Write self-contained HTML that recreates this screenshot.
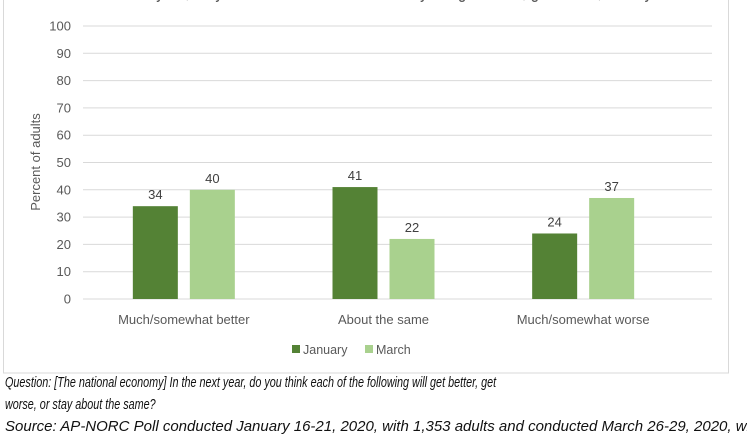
<!DOCTYPE html>
<html><head><meta charset="utf-8">
<style>
body{margin:0;background:#fff;width:747px;height:426px;overflow:hidden;position:relative;font-family:"Liberation Sans",sans-serif}
.note{position:absolute;left:5px;font-style:italic;font-size:15px;color:#111;white-space:nowrap;transform-origin:0 0}
</style></head><body>
<svg width="747" height="426" style="position:absolute;left:0;top:0">
<rect x="3.5" y="-5" width="725" height="378" fill="#fff" stroke="#d9d9d9"/>
<text x="400" y="-2" font-size="18" fill="#595959" text-anchor="middle" textLength="640" lengthAdjust="spacingAndGlyphs">In the next year, do you think the national economy will get better, get worse, or stay the same</text>
<g id="grid"></g><g id="bars"></g><g id="labels"></g>
<text transform="translate(40,162) rotate(-90)" font-size="13" fill="#595959" text-anchor="middle">Percent of adults</text>
<g>
<rect x="292" y="345" width="8" height="8" fill="#548235"/>
<text x="303" y="354" font-size="12.5" fill="#595959">January</text>
<rect x="365" y="345" width="8" height="8" fill="#a9d18e"/>
<text x="376" y="354" font-size="12.5" fill="#595959">March</text>
</g>
</svg>
<div class="note" style="top:374px;transform:scaleX(0.72)">Question: [The national economy] In the next year, do you think each of the following will get better, get</div>
<div class="note" style="top:396px;transform:scaleX(0.72)">worse, or stay about the same?</div>
<div class="note" style="top:418px">Source: AP-NORC Poll conducted January 16-21, 2020, with 1,353 adults and conducted March 26-29, 2020, with</div>
<script>
const categories=["Much/somewhat better","About the same","Much/somewhat worse"];
const january=[34,41,24];
const march=[40,22,37];
const ticks=[0,10,20,30,40,50,60,70,80,90,100];
const NS="http://www.w3.org/2000/svg";
const gx0=83,gx1=712,cx0=84,cx1=683,y0=299,ppu=2.73;
const y=v=>y0-v*ppu;
const bw=(cx1-cx0)/categories.length;
function mk(t,a,p){const e=document.createElementNS(NS,t);for(const k in a)e.setAttribute(k,a[k]);p.appendChild(e);return e;}
const grid=document.getElementById('grid'),bars=document.getElementById('bars'),labels=document.getElementById('labels');
ticks.forEach(t=>{
 const l=mk('line',{x1:gx0,x2:gx1,y1:y(t),y2:y(t),stroke:'#d9d9d9'},grid);
 
 
 const tx=mk('text',{x:71,y:y(t)+4.5,'font-size':13,fill:'#595959','text-anchor':'end'},grid);
 tx.textContent=t;
 
 
});
categories.forEach((c,i)=>{
 const cx=cx0+bw*(i+0.5);
 [[january,'#548235',cx-51,'bar-january'],[march,'#a9d18e',cx+6,'bar-march']].forEach(([s,col,bx,nm])=>{
  const r=mk('rect',{x:bx,y:y(s[i]),width:45,height:s[i]*ppu,fill:col},bars);
  
  
  const t=mk('text',{x:bx+22.5,y:y(s[i])-7,'font-size':13,fill:'#404040','text-anchor':'middle'},labels);
  t.textContent=s[i];
  
  
 });
 const cl=mk('text',{x:cx,y:324,'font-size':13,fill:'#595959','text-anchor':'middle'},labels);
 cl.textContent=c;
 
 
});
</script>
</body></html>
